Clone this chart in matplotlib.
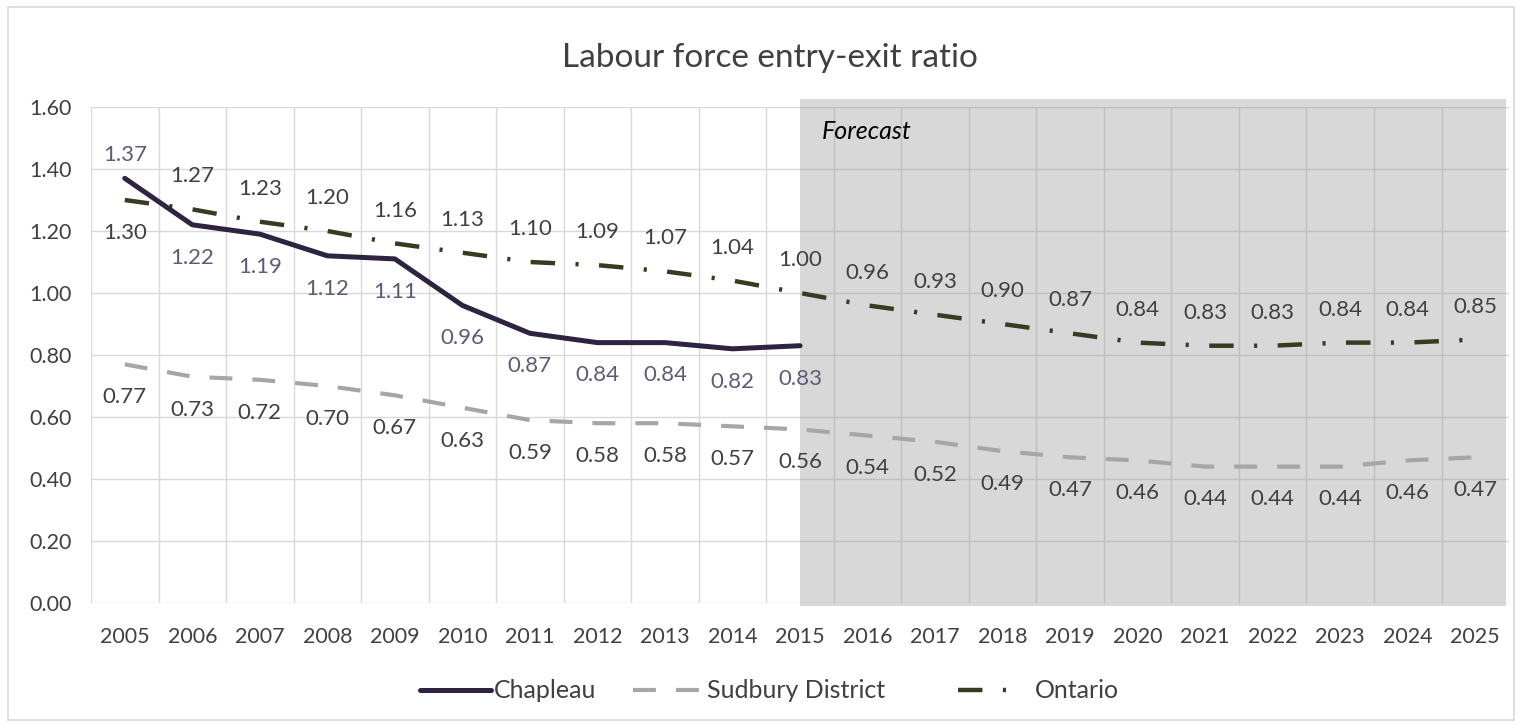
import matplotlib
matplotlib.use("Agg")
import matplotlib.pyplot as plt
from matplotlib.patches import Rectangle
from matplotlib.lines import Line2D

plt.rcParams['font.family'] = ['Lato', 'DejaVu Sans']

years = [str(y) for y in range(2005, 2026)]
chapleau = [1.37, 1.22, 1.19, 1.12, 1.11, 0.96, 0.87, 0.84, 0.84, 0.82, 0.83]
sudbury = [0.77, 0.73, 0.72, 0.70, 0.67, 0.63, 0.59, 0.58, 0.58, 0.57, 0.56,
           0.54, 0.52, 0.49, 0.47, 0.46, 0.44, 0.44, 0.44, 0.46, 0.47]
ontario = [1.30, 1.27, 1.23, 1.20, 1.16, 1.13, 1.10, 1.09, 1.07, 1.04, 1.00,
           0.96, 0.93, 0.90, 0.87, 0.84, 0.83, 0.83, 0.84, 0.84, 0.85]
series_names = ['Chapleau', 'Sudbury District', 'Ontario']
yticks = [0.0, 0.2, 0.4, 0.6, 0.8, 1.0, 1.2, 1.4, 1.6]
forecast_start = 10  # index of 2015

W, H = 1522, 726
fig = plt.figure(figsize=(W / 100, H / 100), dpi=100)
fig.patches.append(Rectangle((0.005, 0.008), 0.99, 0.982, transform=fig.transFigure,
                             fill=False, edgecolor='#d9d9d9', linewidth=1.2))
ax = fig.add_axes([0.0598, 0.1694, 0.9317, 0.6832])

x = list(range(len(years)))
ax.set_xlim(-0.5, len(years) - 0.5)
ax.set_ylim(0, 1.6)

# Excel-style grid: vertical lines between categories, horizontal at ticks
for b in [i - 0.5 for i in range(len(years) + 1)]:
    ax.axvline(b, color='#d9d9d9', lw=1.0, zorder=0)
for t in yticks:
    ax.axhline(t, color='#d9d9d9', lw=1.0, zorder=0)

for s in ax.spines.values():
    s.set_visible(False)
ax.set_xticks(x)
ax.set_xticklabels(years)
ax.set_yticks(yticks)
ax.set_yticklabels([f"{t:.2f}" for t in yticks])
ax.tick_params(length=0, labelsize=15.5, colors='#404040')
ax.tick_params(axis='x', pad=17)
ax.tick_params(axis='y', pad=14)

# Forecast shading
ax.add_patch(Rectangle((forecast_start, -0.01), len(years) - 0.55 - forecast_start, 1.635,
                       facecolor='#808080', alpha=0.3, edgecolor='none', zorder=1,
                       clip_on=False))
ax.text(forecast_start + 0.32, 1.52, 'Forecast', style='italic', fontsize=18,
        color='#000000', ha='left', va='center', zorder=5)

styles = [
    dict(color='#2e2340', lw=3.6, solid_joinstyle='round', solid_capstyle='round'),
    dict(color='#a6a6a6', lw=3.0, dashes=(5.5, 4.8)),
    dict(color='#383b22', lw=3.2, dashes=(5.5, 4.6, 0.7, 4.6)),
]

ax.plot(x[:len(chapleau)], chapleau, zorder=4, **styles[0])
ax.plot(x, sudbury, zorder=3, **styles[1])
ax.plot(x, ontario, zorder=3, **styles[2])

lab_fs = 16
off = 0.106
for i, v in enumerate(chapleau):
    d = 0.075 if i == 0 else -off
    ax.text(i, v + d, f"{v:.2f}", ha='center', va='center', fontsize=lab_fs,
            color='#5d5b76', zorder=5)
for i, v in enumerate(ontario):
    d = -off if i == 0 else off
    ax.text(i, v + d, f"{v:.2f}", ha='center', va='center', fontsize=lab_fs,
            color='#404040', zorder=5)
for i, v in enumerate(sudbury):
    ax.text(i, v - off, f"{v:.2f}", ha='center', va='center', fontsize=lab_fs,
            color='#404040', zorder=5)

fig.text(0.506, 0.92, 'Labour force entry-exit ratio', ha='center', va='center',
         fontsize=24, color='#404040')

# Legend row drawn in figure pixels
leg_y = 1 - 690 / H
handle_spans = [(420, 491), (633, 702), (958, 1010)]
text_starts = [494, 707, 1035]
for (x0, x1), tx, name, st in zip(handle_spans, text_starts, series_names, styles):
    fig.lines.append(Line2D([x0 / W, x1 / W], [leg_y, leg_y], transform=fig.transFigure,
                            **st))
    fig.text(tx / W, leg_y, name, ha='left', va='center', fontsize=18, color='#404040')

fig.savefig('out.png', dpi=100)
